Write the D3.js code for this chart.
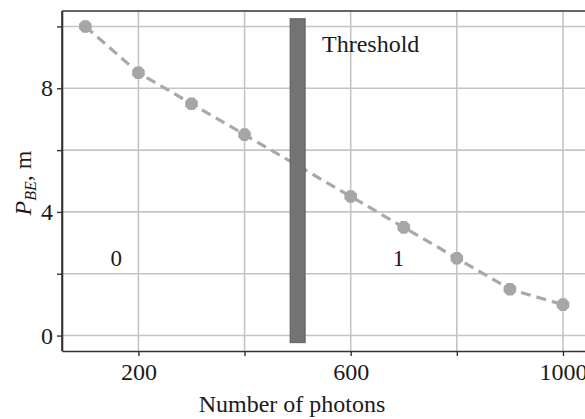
<!DOCTYPE html>
<html><head><meta charset="utf-8">
<script src="https://cdn.jsdelivr.net/npm/d3@7"></script>
<style>
body{margin:0;background:#fff;}
svg{display:block;font-family:"Liberation Serif","Times New Roman",serif;}
</style></head>
<body>
<svg id="chart" width="585" height="419"></svg>
<script>
const photons = [100, 200, 300, 400, 500, 600, 700, 800, 900, 1000];
const pbe = [10, 8.5, 7.5, 6.5, 5.5, 4.5, 3.5, 2.5, 1.5, 1.0];
const xTickValues = [200, 400, 600, 800, 1000];
const xTickLabels = ["200", "", "600", "", "1000"];
const yTickValues = [0, 2, 4, 6, 8, 10];
const yTickLabels = ["0", "", "4", "", "8", ""];
const thresholdX = [500];
const thresholdSpan = [-0.23, 10.25];
const regionLabels = [{text: "0", x: 158}, {text: "1", x: 690}];

(function () {
const svg = d3.select("#chart");
const W = 585, H = 419;
const mL = 62, mR = 589.5, mT = 11, mB = 351;
const x = d3.scaleLinear().domain([56, 1050]).range([mL, mR]);
const y = d3.scaleLinear().domain([-0.5, 10.5]).range([mB, mT]);

const gridColor = "#c4c4c4";
svg.append("g").selectAll("line").data(xTickValues).join("line")
  .attr("x1", d => x(d)).attr("x2", d => x(d)).attr("y1", mT).attr("y2", mB)
  .attr("stroke", gridColor).attr("stroke-width", 1.6);
svg.append("g").selectAll("line").data(yTickValues).join("line")
  .attr("x1", mL).attr("x2", mR).attr("y1", d => y(d)).attr("y2", d => y(d))
  .attr("stroke", gridColor).attr("stroke-width", 1.6);

const xAxis = d3.axisBottom(x).tickValues(xTickValues)
  .tickFormat((d, i) => xTickLabels[i]).tickSize(5).tickSizeOuter(0).tickPadding(7);
const gx = svg.append("g").attr("transform", `translate(0,${mB})`).call(xAxis);
const yAxis = d3.axisLeft(y).tickValues(yTickValues)
  .tickFormat((d, i) => yTickLabels[i]).tickSize(5).tickSizeOuter(0).tickPadding(4);
const gy = svg.append("g").attr("transform", `translate(${mL},0)`).call(yAxis);
[gx, gy].forEach(g => {
  g.select(".domain").attr("stroke", "#333").attr("stroke-width", 1.6);
  g.selectAll(".tick line").attr("stroke", "#333").attr("stroke-width", 1.4);
  g.selectAll(".tick text").attr("fill", "#1a1a1a").attr("font-size", 24)
    .attr("font-family", "Liberation Serif, Times New Roman, serif");
});
svg.append("line").attr("x1", mL).attr("x2", W).attr("y1", mT).attr("y2", mT)
  .attr("stroke", "#333").attr("stroke-width", 1.6);
svg.append("line").attr("x1", mL).attr("x2", mL).attr("y1", mT).attr("y2", mB)
  .attr("stroke", "#333").attr("stroke-width", 1.6);

const line = d3.line().x((d, i) => x(photons[i])).y(d => y(d));
svg.append("path").datum(pbe).attr("d", line).attr("fill", "none")
  .attr("stroke", "#a9a9a9").attr("stroke-width", 3.2).attr("stroke-dasharray", "10,6");

const oct = d3.range(8).map(k => {
  const a = Math.PI / 8 + k * Math.PI / 4;
  return [6.8 * Math.cos(a), 6.8 * Math.sin(a)];
});
svg.append("g").selectAll("path").data(pbe).join("path")
  .attr("d", "M" + oct.map(p => p.join(",")).join("L") + "Z")
  .attr("transform", (d, i) => `translate(${x(photons[i])},${y(d)})`)
  .attr("fill", "#a6a6a6");

svg.append("g").selectAll("rect").data(thresholdX).join("rect")
  .attr("x", d => x(d) - 7.5).attr("width", 15)
  .attr("y", y(thresholdSpan[1])).attr("height", y(thresholdSpan[0]) - y(thresholdSpan[1]))
  .attr("fill", "#737373").attr("stroke", "#5e5e5e").attr("stroke-width", 1);

svg.append("text").attr("x", 322).attr("y", 52).attr("font-size", 24).attr("fill", "#1a1a1a")
  .text("Threshold");

svg.append("g").selectAll("text").data(regionLabels).join("text")
  .attr("x", d => x(d.x)).attr("y", 266).attr("text-anchor", "middle")
  .attr("font-size", 23).attr("fill", "#1a1a1a").text(d => d.text);

svg.append("text").attr("x", 292).attr("y", 412).attr("text-anchor", "middle")
  .attr("font-size", 24).attr("fill", "#1a1a1a").text("Number of photons");

const yl = svg.append("text").attr("transform", "translate(31,183) rotate(-90)")
  .attr("text-anchor", "middle").attr("font-size", 24).attr("fill", "#1a1a1a");
yl.append("tspan").attr("font-style", "italic").text("P");
yl.append("tspan").attr("font-style", "italic").attr("font-size", 16).attr("dy", 5).text("BE");
yl.append("tspan").attr("dy", -5).text(", m");
})();
</script>
</body></html>
